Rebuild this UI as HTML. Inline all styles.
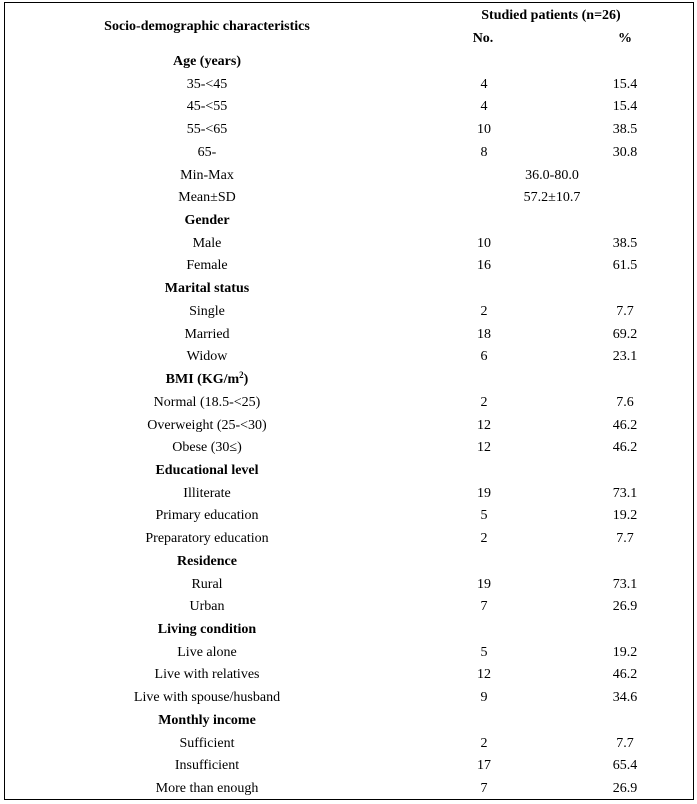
<!DOCTYPE html>
<html>
<head>
<meta charset="utf-8">
<style>
  html, body { margin:0; padding:0; background:#fff; }
  body { width:697px; height:804px; position:relative; overflow:hidden;
         font-family:"Liberation Serif", "Times New Roman", serif; font-size:14px; color:#000; }
  .frame { position:absolute; left:4px; top:2px; width:690px; height:798px;
           box-sizing:border-box; border:1px solid #000; }
  .h { position:absolute; line-height:22.72px; height:22.72px; text-align:center; font-weight:bold; white-space:nowrap; }
  .rows { position:absolute; left:0; top:51px; width:697px; }
  .r { position:relative; height:22.72px; line-height:22.72px; }
  .r span { position:absolute; top:0; text-align:center; white-space:nowrap; }
  .a { left:57px; width:300px; }
  .b { left:434px; width:100px; }
  .c { left:575px; width:100px; }
  .m { left:502px; width:100px; }
  .bold { font-weight:bold; }
  sup { font-size:9px; line-height:0; vertical-align:5px; }
</style>
</head>
<body>
<div class="frame"></div>

<div class="h" style="left:57px;width:300px;top:15.5px;">Socio-demographic characteristics</div>
<div class="h" style="left:401px;width:300px;top:5.2px;">Studied patients (n=26)</div>
<div class="h" style="left:433px;width:100px;top:27.8px;">No.</div>
<div class="h" style="left:575px;width:100px;top:27.8px;">%</div>

<div class="rows">
  <div class="r"><span class="a bold">Age (years)</span></div>
  <div class="r"><span class="a">35-&lt;45</span><span class="b">4</span><span class="c">15.4</span></div>
  <div class="r"><span class="a">45-&lt;55</span><span class="b">4</span><span class="c">15.4</span></div>
  <div class="r"><span class="a">55-&lt;65</span><span class="b">10</span><span class="c">38.5</span></div>
  <div class="r"><span class="a">65-</span><span class="b">8</span><span class="c">30.8</span></div>
  <div class="r"><span class="a">Min-Max</span><span class="m">36.0-80.0</span></div>
  <div class="r"><span class="a">Mean±SD</span><span class="m">57.2±10.7</span></div>
  <div class="r"><span class="a bold">Gender</span></div>
  <div class="r"><span class="a">Male</span><span class="b">10</span><span class="c">38.5</span></div>
  <div class="r"><span class="a">Female</span><span class="b">16</span><span class="c">61.5</span></div>
  <div class="r"><span class="a bold">Marital status</span></div>
  <div class="r"><span class="a">Single</span><span class="b">2</span><span class="c">7.7</span></div>
  <div class="r"><span class="a">Married</span><span class="b">18</span><span class="c">69.2</span></div>
  <div class="r"><span class="a">Widow</span><span class="b">6</span><span class="c">23.1</span></div>
  <div class="r"><span class="a bold">BMI (KG/m<sup>2</sup>)</span></div>
  <div class="r"><span class="a">Normal (18.5-&lt;25)</span><span class="b">2</span><span class="c">7.6</span></div>
  <div class="r"><span class="a">Overweight (25-&lt;30)</span><span class="b">12</span><span class="c">46.2</span></div>
  <div class="r"><span class="a">Obese (30≤)</span><span class="b">12</span><span class="c">46.2</span></div>
  <div class="r"><span class="a bold">Educational level</span></div>
  <div class="r"><span class="a">Illiterate</span><span class="b">19</span><span class="c">73.1</span></div>
  <div class="r"><span class="a">Primary education</span><span class="b">5</span><span class="c">19.2</span></div>
  <div class="r"><span class="a">Preparatory education</span><span class="b">2</span><span class="c">7.7</span></div>
  <div class="r"><span class="a bold">Residence</span></div>
  <div class="r"><span class="a">Rural</span><span class="b">19</span><span class="c">73.1</span></div>
  <div class="r"><span class="a">Urban</span><span class="b">7</span><span class="c">26.9</span></div>
  <div class="r"><span class="a bold">Living condition</span></div>
  <div class="r"><span class="a">Live alone</span><span class="b">5</span><span class="c">19.2</span></div>
  <div class="r"><span class="a">Live with relatives</span><span class="b">12</span><span class="c">46.2</span></div>
  <div class="r"><span class="a">Live with spouse/husband</span><span class="b">9</span><span class="c">34.6</span></div>
  <div class="r"><span class="a bold">Monthly income</span></div>
  <div class="r"><span class="a">Sufficient</span><span class="b">2</span><span class="c">7.7</span></div>
  <div class="r"><span class="a">Insufficient</span><span class="b">17</span><span class="c">65.4</span></div>
  <div class="r"><span class="a">More than enough</span><span class="b">7</span><span class="c">26.9</span></div>
</div>
</body>
</html>
